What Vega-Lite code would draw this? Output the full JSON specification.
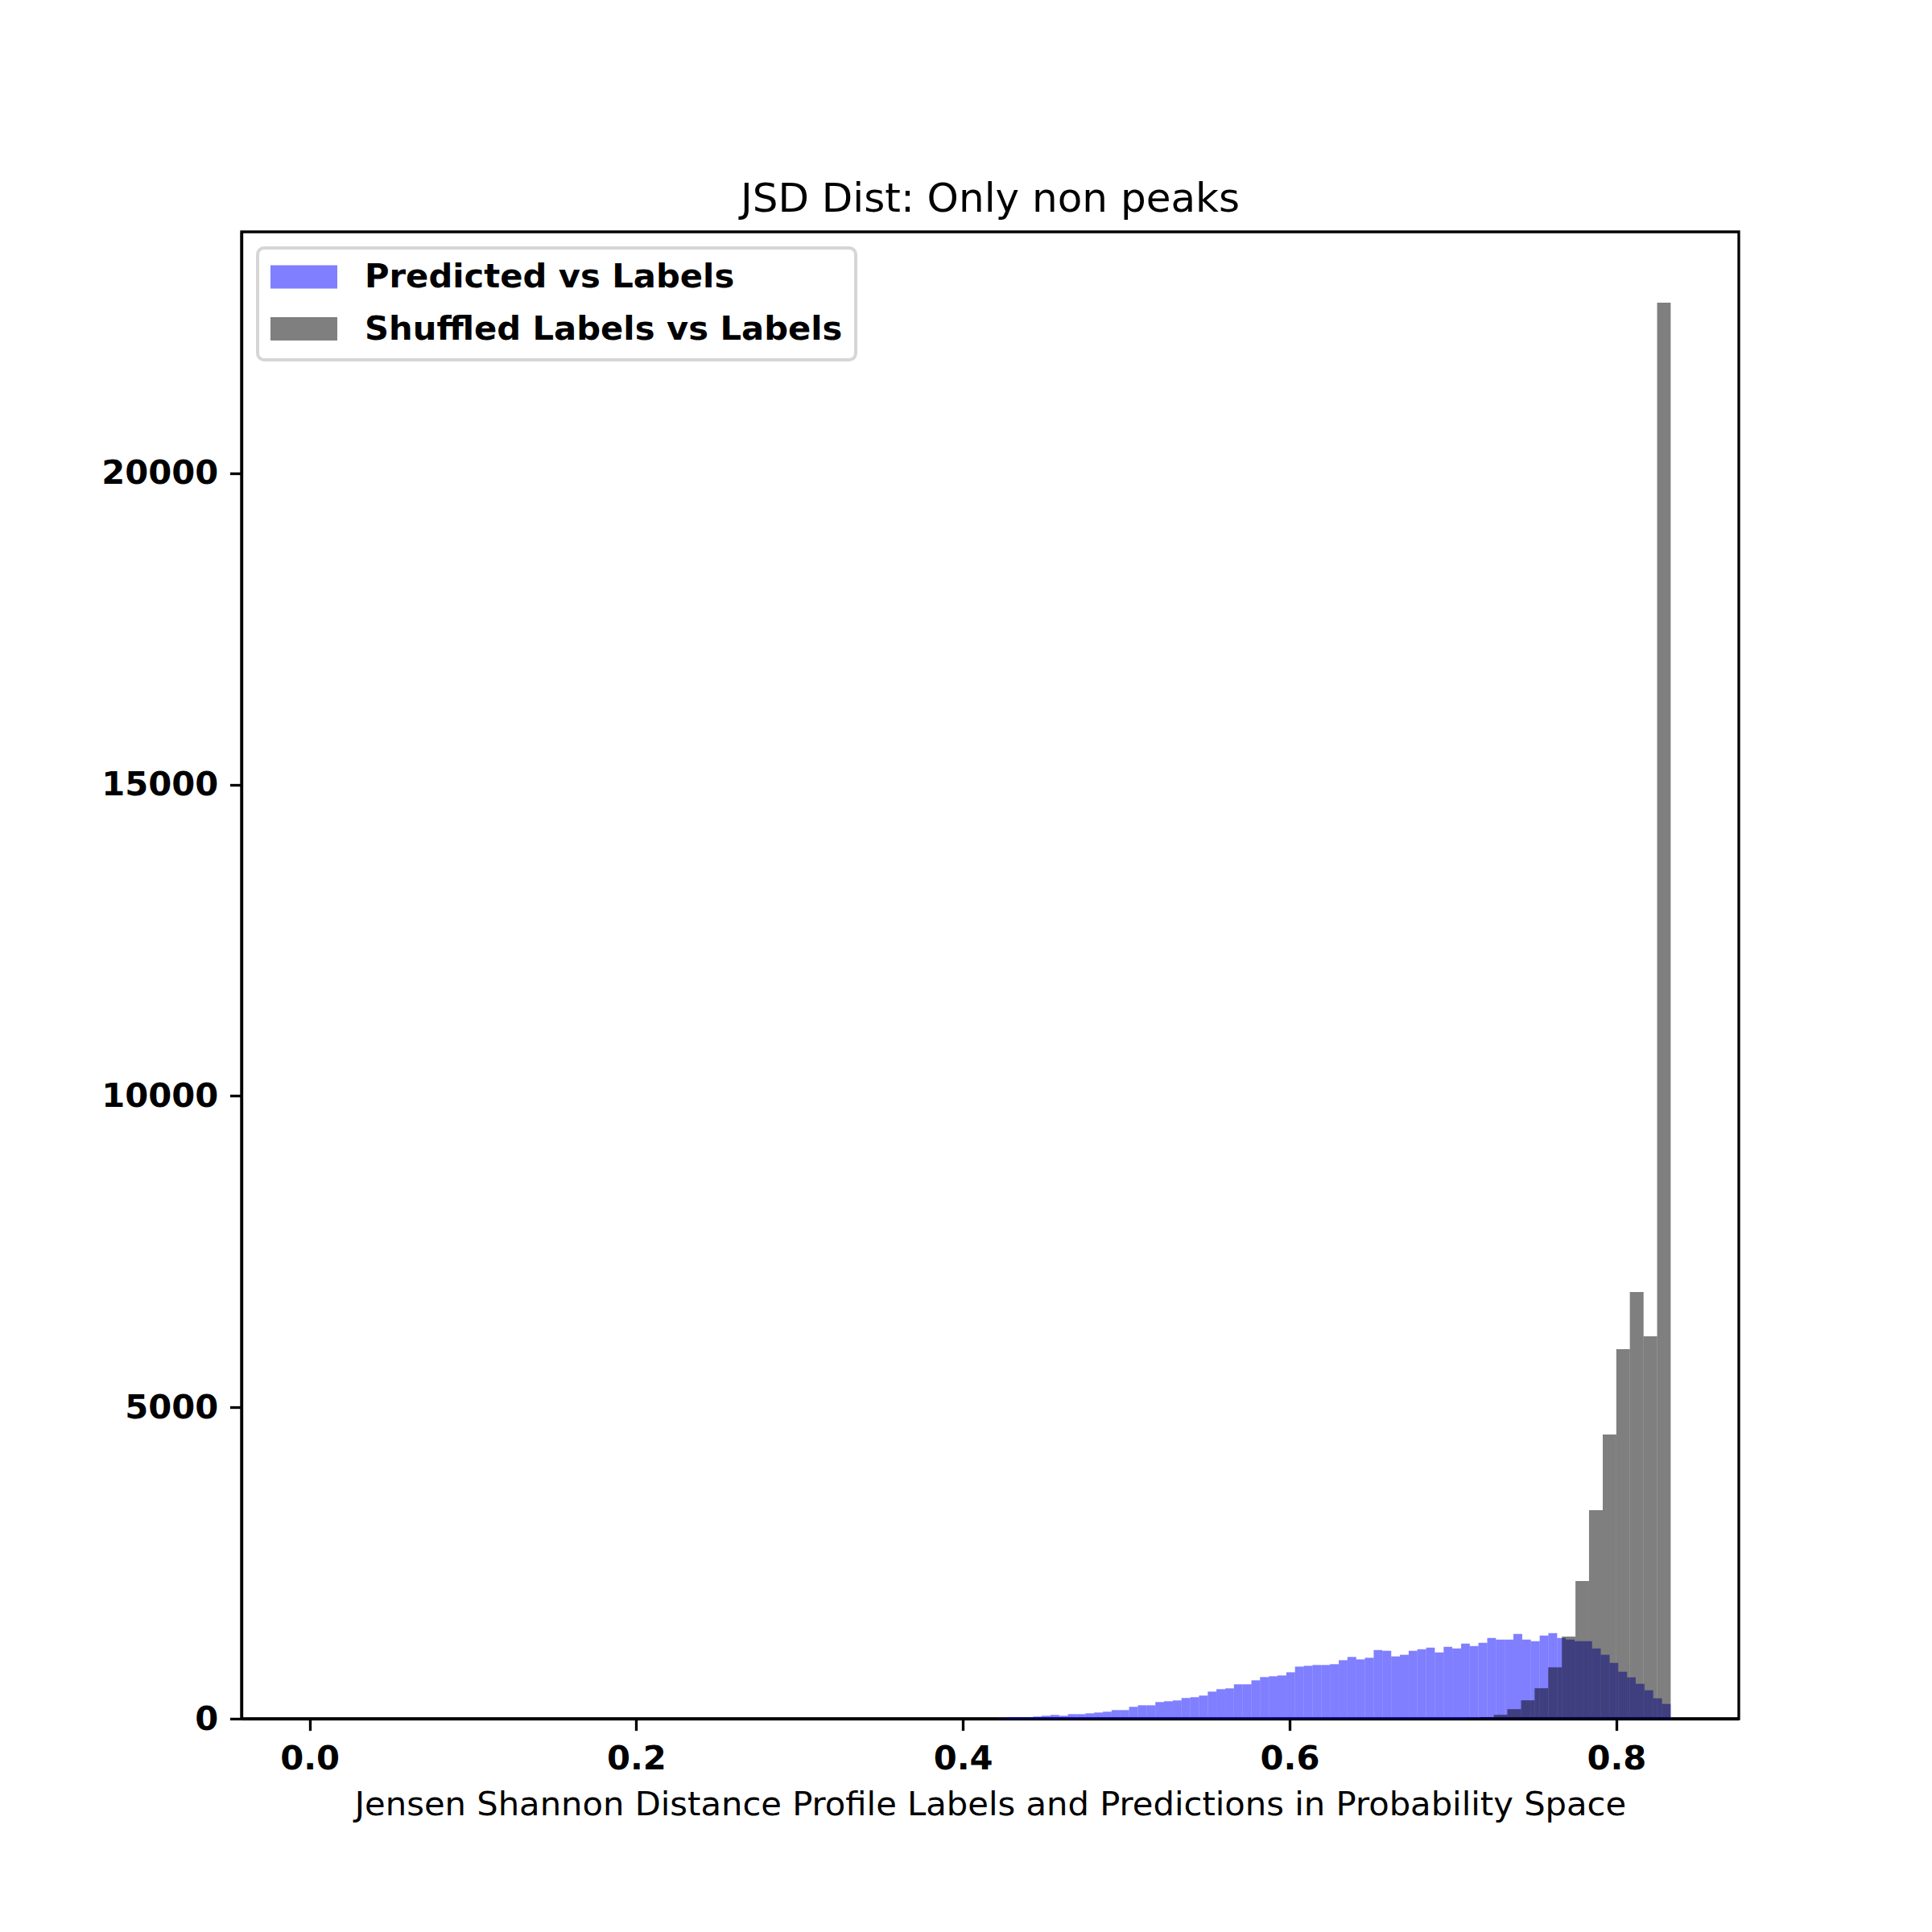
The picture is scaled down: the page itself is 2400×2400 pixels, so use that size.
{
  "$schema": "https://vega.github.io/schema/vega-lite/v6.json",
  "width": 1860,
  "height": 1847,
  "autosize": {"type": "none"},
  "padding": {"left": 300, "top": 288, "right": 240, "bottom": 265},
  "background": "white",
  "title": {
    "text": "JSD Dist: Only non peaks",
    "font": "DejaVu Sans",
    "fontSize": 50,
    "fontWeight": "normal",
    "color": "black",
    "anchor": "middle",
    "offset": 15
  },
  "config": {
    "view": {"stroke": "black", "strokeWidth": 3.33},
    "axis": {
      "grid": false,
      "domainColor": "black",
      "domainWidth": 3.33,
      "tickColor": "black",
      "tickWidth": 3.33,
      "tickSize": 14.6,
      "labelPadding": 14.6,
      "labelFont": "DejaVu Sans",
      "labelFontSize": 41.7,
      "labelFontWeight": "bold",
      "labelColor": "black",
      "titleFont": "DejaVu Sans",
      "titleFontSize": 41.7,
      "titleFontWeight": "normal",
      "titleColor": "black"
    },
    "legend": {
      "labelFont": "DejaVu Sans",
      "labelFontSize": 41.7,
      "labelFontWeight": "bold",
      "labelColor": "black",
      "labelLimit": 1200,
      "labelOffset": 34,
      "symbolType": "M-1,-0.35H1V0.35H-1Z",
      "symbolSize": 6889,
      "symbolStrokeWidth": 0,
      "symbolOpacity": 0.5,
      "clipHeight": 40,
      "strokeColor": "#d6d6d6",
      "strokeWidth": 4,
      "fillColor": "white",
      "cornerRadius": 8,
      "padding": 16,
      "rowPadding": 22.5,
      "orient": "top-left",
      "offset": 20
    }
  },
  "data": {
    "values": [
      {"series": "Predicted vs Labels", "bin_start": 0.4215, "bin_end": 0.4268, "count": 10},
      {"series": "Predicted vs Labels", "bin_start": 0.4268, "bin_end": 0.4322, "count": 22},
      {"series": "Predicted vs Labels", "bin_start": 0.4322, "bin_end": 0.4375, "count": 22},
      {"series": "Predicted vs Labels", "bin_start": 0.4375, "bin_end": 0.4429, "count": 22},
      {"series": "Predicted vs Labels", "bin_start": 0.4429, "bin_end": 0.4482, "count": 34},
      {"series": "Predicted vs Labels", "bin_start": 0.4482, "bin_end": 0.4536, "count": 47},
      {"series": "Predicted vs Labels", "bin_start": 0.4536, "bin_end": 0.4589, "count": 60},
      {"series": "Predicted vs Labels", "bin_start": 0.4589, "bin_end": 0.4643, "count": 47},
      {"series": "Predicted vs Labels", "bin_start": 0.4643, "bin_end": 0.4696, "count": 73},
      {"series": "Predicted vs Labels", "bin_start": 0.4696, "bin_end": 0.4750, "count": 73},
      {"series": "Predicted vs Labels", "bin_start": 0.4750, "bin_end": 0.4803, "count": 86},
      {"series": "Predicted vs Labels", "bin_start": 0.4803, "bin_end": 0.4857, "count": 99},
      {"series": "Predicted vs Labels", "bin_start": 0.4857, "bin_end": 0.4910, "count": 112},
      {"series": "Predicted vs Labels", "bin_start": 0.4910, "bin_end": 0.4964, "count": 138},
      {"series": "Predicted vs Labels", "bin_start": 0.4964, "bin_end": 0.5017, "count": 138},
      {"series": "Predicted vs Labels", "bin_start": 0.5017, "bin_end": 0.5071, "count": 190},
      {"series": "Predicted vs Labels", "bin_start": 0.5071, "bin_end": 0.5124, "count": 215},
      {"series": "Predicted vs Labels", "bin_start": 0.5124, "bin_end": 0.5178, "count": 215},
      {"series": "Predicted vs Labels", "bin_start": 0.5178, "bin_end": 0.5231, "count": 267},
      {"series": "Predicted vs Labels", "bin_start": 0.5231, "bin_end": 0.5285, "count": 280},
      {"series": "Predicted vs Labels", "bin_start": 0.5285, "bin_end": 0.5338, "count": 293},
      {"series": "Predicted vs Labels", "bin_start": 0.5338, "bin_end": 0.5392, "count": 332},
      {"series": "Predicted vs Labels", "bin_start": 0.5392, "bin_end": 0.5445, "count": 345},
      {"series": "Predicted vs Labels", "bin_start": 0.5445, "bin_end": 0.5499, "count": 371},
      {"series": "Predicted vs Labels", "bin_start": 0.5499, "bin_end": 0.5552, "count": 435},
      {"series": "Predicted vs Labels", "bin_start": 0.5552, "bin_end": 0.5606, "count": 474},
      {"series": "Predicted vs Labels", "bin_start": 0.5606, "bin_end": 0.5659, "count": 487},
      {"series": "Predicted vs Labels", "bin_start": 0.5659, "bin_end": 0.5712, "count": 552},
      {"series": "Predicted vs Labels", "bin_start": 0.5712, "bin_end": 0.5766, "count": 552},
      {"series": "Predicted vs Labels", "bin_start": 0.5766, "bin_end": 0.5819, "count": 616},
      {"series": "Predicted vs Labels", "bin_start": 0.5819, "bin_end": 0.5873, "count": 668},
      {"series": "Predicted vs Labels", "bin_start": 0.5873, "bin_end": 0.5926, "count": 681},
      {"series": "Predicted vs Labels", "bin_start": 0.5926, "bin_end": 0.5980, "count": 694},
      {"series": "Predicted vs Labels", "bin_start": 0.5980, "bin_end": 0.6033, "count": 745},
      {"series": "Predicted vs Labels", "bin_start": 0.6033, "bin_end": 0.6087, "count": 836},
      {"series": "Predicted vs Labels", "bin_start": 0.6087, "bin_end": 0.6140, "count": 849},
      {"series": "Predicted vs Labels", "bin_start": 0.6140, "bin_end": 0.6194, "count": 862},
      {"series": "Predicted vs Labels", "bin_start": 0.6194, "bin_end": 0.6247, "count": 862},
      {"series": "Predicted vs Labels", "bin_start": 0.6247, "bin_end": 0.6301, "count": 875},
      {"series": "Predicted vs Labels", "bin_start": 0.6301, "bin_end": 0.6354, "count": 939},
      {"series": "Predicted vs Labels", "bin_start": 0.6354, "bin_end": 0.6408, "count": 991},
      {"series": "Predicted vs Labels", "bin_start": 0.6408, "bin_end": 0.6461, "count": 952},
      {"series": "Predicted vs Labels", "bin_start": 0.6461, "bin_end": 0.6515, "count": 978},
      {"series": "Predicted vs Labels", "bin_start": 0.6515, "bin_end": 0.6568, "count": 1103},
      {"series": "Predicted vs Labels", "bin_start": 0.6568, "bin_end": 0.6622, "count": 1090},
      {"series": "Predicted vs Labels", "bin_start": 0.6622, "bin_end": 0.6675, "count": 1000},
      {"series": "Predicted vs Labels", "bin_start": 0.6675, "bin_end": 0.6729, "count": 1026},
      {"series": "Predicted vs Labels", "bin_start": 0.6729, "bin_end": 0.6782, "count": 1090},
      {"series": "Predicted vs Labels", "bin_start": 0.6782, "bin_end": 0.6836, "count": 1116},
      {"series": "Predicted vs Labels", "bin_start": 0.6836, "bin_end": 0.6889, "count": 1142},
      {"series": "Predicted vs Labels", "bin_start": 0.6889, "bin_end": 0.6943, "count": 1064},
      {"series": "Predicted vs Labels", "bin_start": 0.6943, "bin_end": 0.6996, "count": 1155},
      {"series": "Predicted vs Labels", "bin_start": 0.6996, "bin_end": 0.7050, "count": 1129},
      {"series": "Predicted vs Labels", "bin_start": 0.7050, "bin_end": 0.7103, "count": 1207},
      {"series": "Predicted vs Labels", "bin_start": 0.7103, "bin_end": 0.7156, "count": 1168},
      {"series": "Predicted vs Labels", "bin_start": 0.7156, "bin_end": 0.7210, "count": 1219},
      {"series": "Predicted vs Labels", "bin_start": 0.7210, "bin_end": 0.7263, "count": 1297},
      {"series": "Predicted vs Labels", "bin_start": 0.7263, "bin_end": 0.7317, "count": 1271},
      {"series": "Predicted vs Labels", "bin_start": 0.7317, "bin_end": 0.7370, "count": 1271},
      {"series": "Predicted vs Labels", "bin_start": 0.7370, "bin_end": 0.7424, "count": 1362},
      {"series": "Predicted vs Labels", "bin_start": 0.7424, "bin_end": 0.7477, "count": 1271},
      {"series": "Predicted vs Labels", "bin_start": 0.7477, "bin_end": 0.7531, "count": 1245},
      {"series": "Predicted vs Labels", "bin_start": 0.7531, "bin_end": 0.7584, "count": 1336},
      {"series": "Predicted vs Labels", "bin_start": 0.7584, "bin_end": 0.7638, "count": 1375},
      {"series": "Predicted vs Labels", "bin_start": 0.7638, "bin_end": 0.7691, "count": 1297},
      {"series": "Predicted vs Labels", "bin_start": 0.7691, "bin_end": 0.7745, "count": 1271},
      {"series": "Predicted vs Labels", "bin_start": 0.7745, "bin_end": 0.7798, "count": 1245},
      {"series": "Predicted vs Labels", "bin_start": 0.7798, "bin_end": 0.7852, "count": 1245},
      {"series": "Predicted vs Labels", "bin_start": 0.7852, "bin_end": 0.7905, "count": 1129},
      {"series": "Predicted vs Labels", "bin_start": 0.7905, "bin_end": 0.7959, "count": 1026},
      {"series": "Predicted vs Labels", "bin_start": 0.7959, "bin_end": 0.8012, "count": 896},
      {"series": "Predicted vs Labels", "bin_start": 0.8012, "bin_end": 0.8066, "count": 754},
      {"series": "Predicted vs Labels", "bin_start": 0.8066, "bin_end": 0.8119, "count": 664},
      {"series": "Predicted vs Labels", "bin_start": 0.8119, "bin_end": 0.8173, "count": 560},
      {"series": "Predicted vs Labels", "bin_start": 0.8173, "bin_end": 0.8226, "count": 457},
      {"series": "Predicted vs Labels", "bin_start": 0.8226, "bin_end": 0.8280, "count": 327},
      {"series": "Predicted vs Labels", "bin_start": 0.8280, "bin_end": 0.8333, "count": 237},
      {"series": "Shuffled Labels vs Labels", "bin_start": 0.7083, "bin_end": 0.7167, "count": 11},
      {"series": "Shuffled Labels vs Labels", "bin_start": 0.7167, "bin_end": 0.7250, "count": 24},
      {"series": "Shuffled Labels vs Labels", "bin_start": 0.7250, "bin_end": 0.7333, "count": 62},
      {"series": "Shuffled Labels vs Labels", "bin_start": 0.7333, "bin_end": 0.7417, "count": 153},
      {"series": "Shuffled Labels vs Labels", "bin_start": 0.7417, "bin_end": 0.7500, "count": 295},
      {"series": "Shuffled Labels vs Labels", "bin_start": 0.7500, "bin_end": 0.7583, "count": 489},
      {"series": "Shuffled Labels vs Labels", "bin_start": 0.7583, "bin_end": 0.7667, "count": 825},
      {"series": "Shuffled Labels vs Labels", "bin_start": 0.7667, "bin_end": 0.7750, "count": 1318},
      {"series": "Shuffled Labels vs Labels", "bin_start": 0.7750, "bin_end": 0.7833, "count": 2210},
      {"series": "Shuffled Labels vs Labels", "bin_start": 0.7833, "bin_end": 0.7917, "count": 3348},
      {"series": "Shuffled Labels vs Labels", "bin_start": 0.7917, "bin_end": 0.8000, "count": 4563},
      {"series": "Shuffled Labels vs Labels", "bin_start": 0.8000, "bin_end": 0.8083, "count": 5933},
      {"series": "Shuffled Labels vs Labels", "bin_start": 0.8083, "bin_end": 0.8167, "count": 6851},
      {"series": "Shuffled Labels vs Labels", "bin_start": 0.8167, "bin_end": 0.8250, "count": 6140},
      {"series": "Shuffled Labels vs Labels", "bin_start": 0.8250, "bin_end": 0.8333, "count": 22738}
    ]
  },
  "mark": {"type": "bar", "opacity": 0.5, "strokeWidth": 0},
  "encoding": {
    "x": {
      "field": "bin_start",
      "type": "quantitative",
      "scale": {"domain": [-0.04167, 0.875], "nice": false, "zero": false},
      "axis": {
        "values": [0, 0.2, 0.4, 0.6, 0.8],
        "format": ".1f",
        "title": "Jensen Shannon Distance Profile Labels and Predictions in Probability Space",
        "titlePadding": 16
      }
    },
    "x2": {"field": "bin_end"},
    "y": {
      "field": "count",
      "type": "quantitative",
      "stack": null,
      "scale": {"domain": [0, 23875], "nice": false},
      "axis": {
        "values": [0, 5000, 10000, 15000, 20000],
        "format": "d",
        "title": null
      }
    },
    "y2": {"datum": 0},
    "color": {
      "field": "series",
      "type": "nominal",
      "scale": {
        "domain": ["Predicted vs Labels", "Shuffled Labels vs Labels"],
        "range": ["blue", "black"]
      },
      "legend": {"title": null}
    }
  }
}
